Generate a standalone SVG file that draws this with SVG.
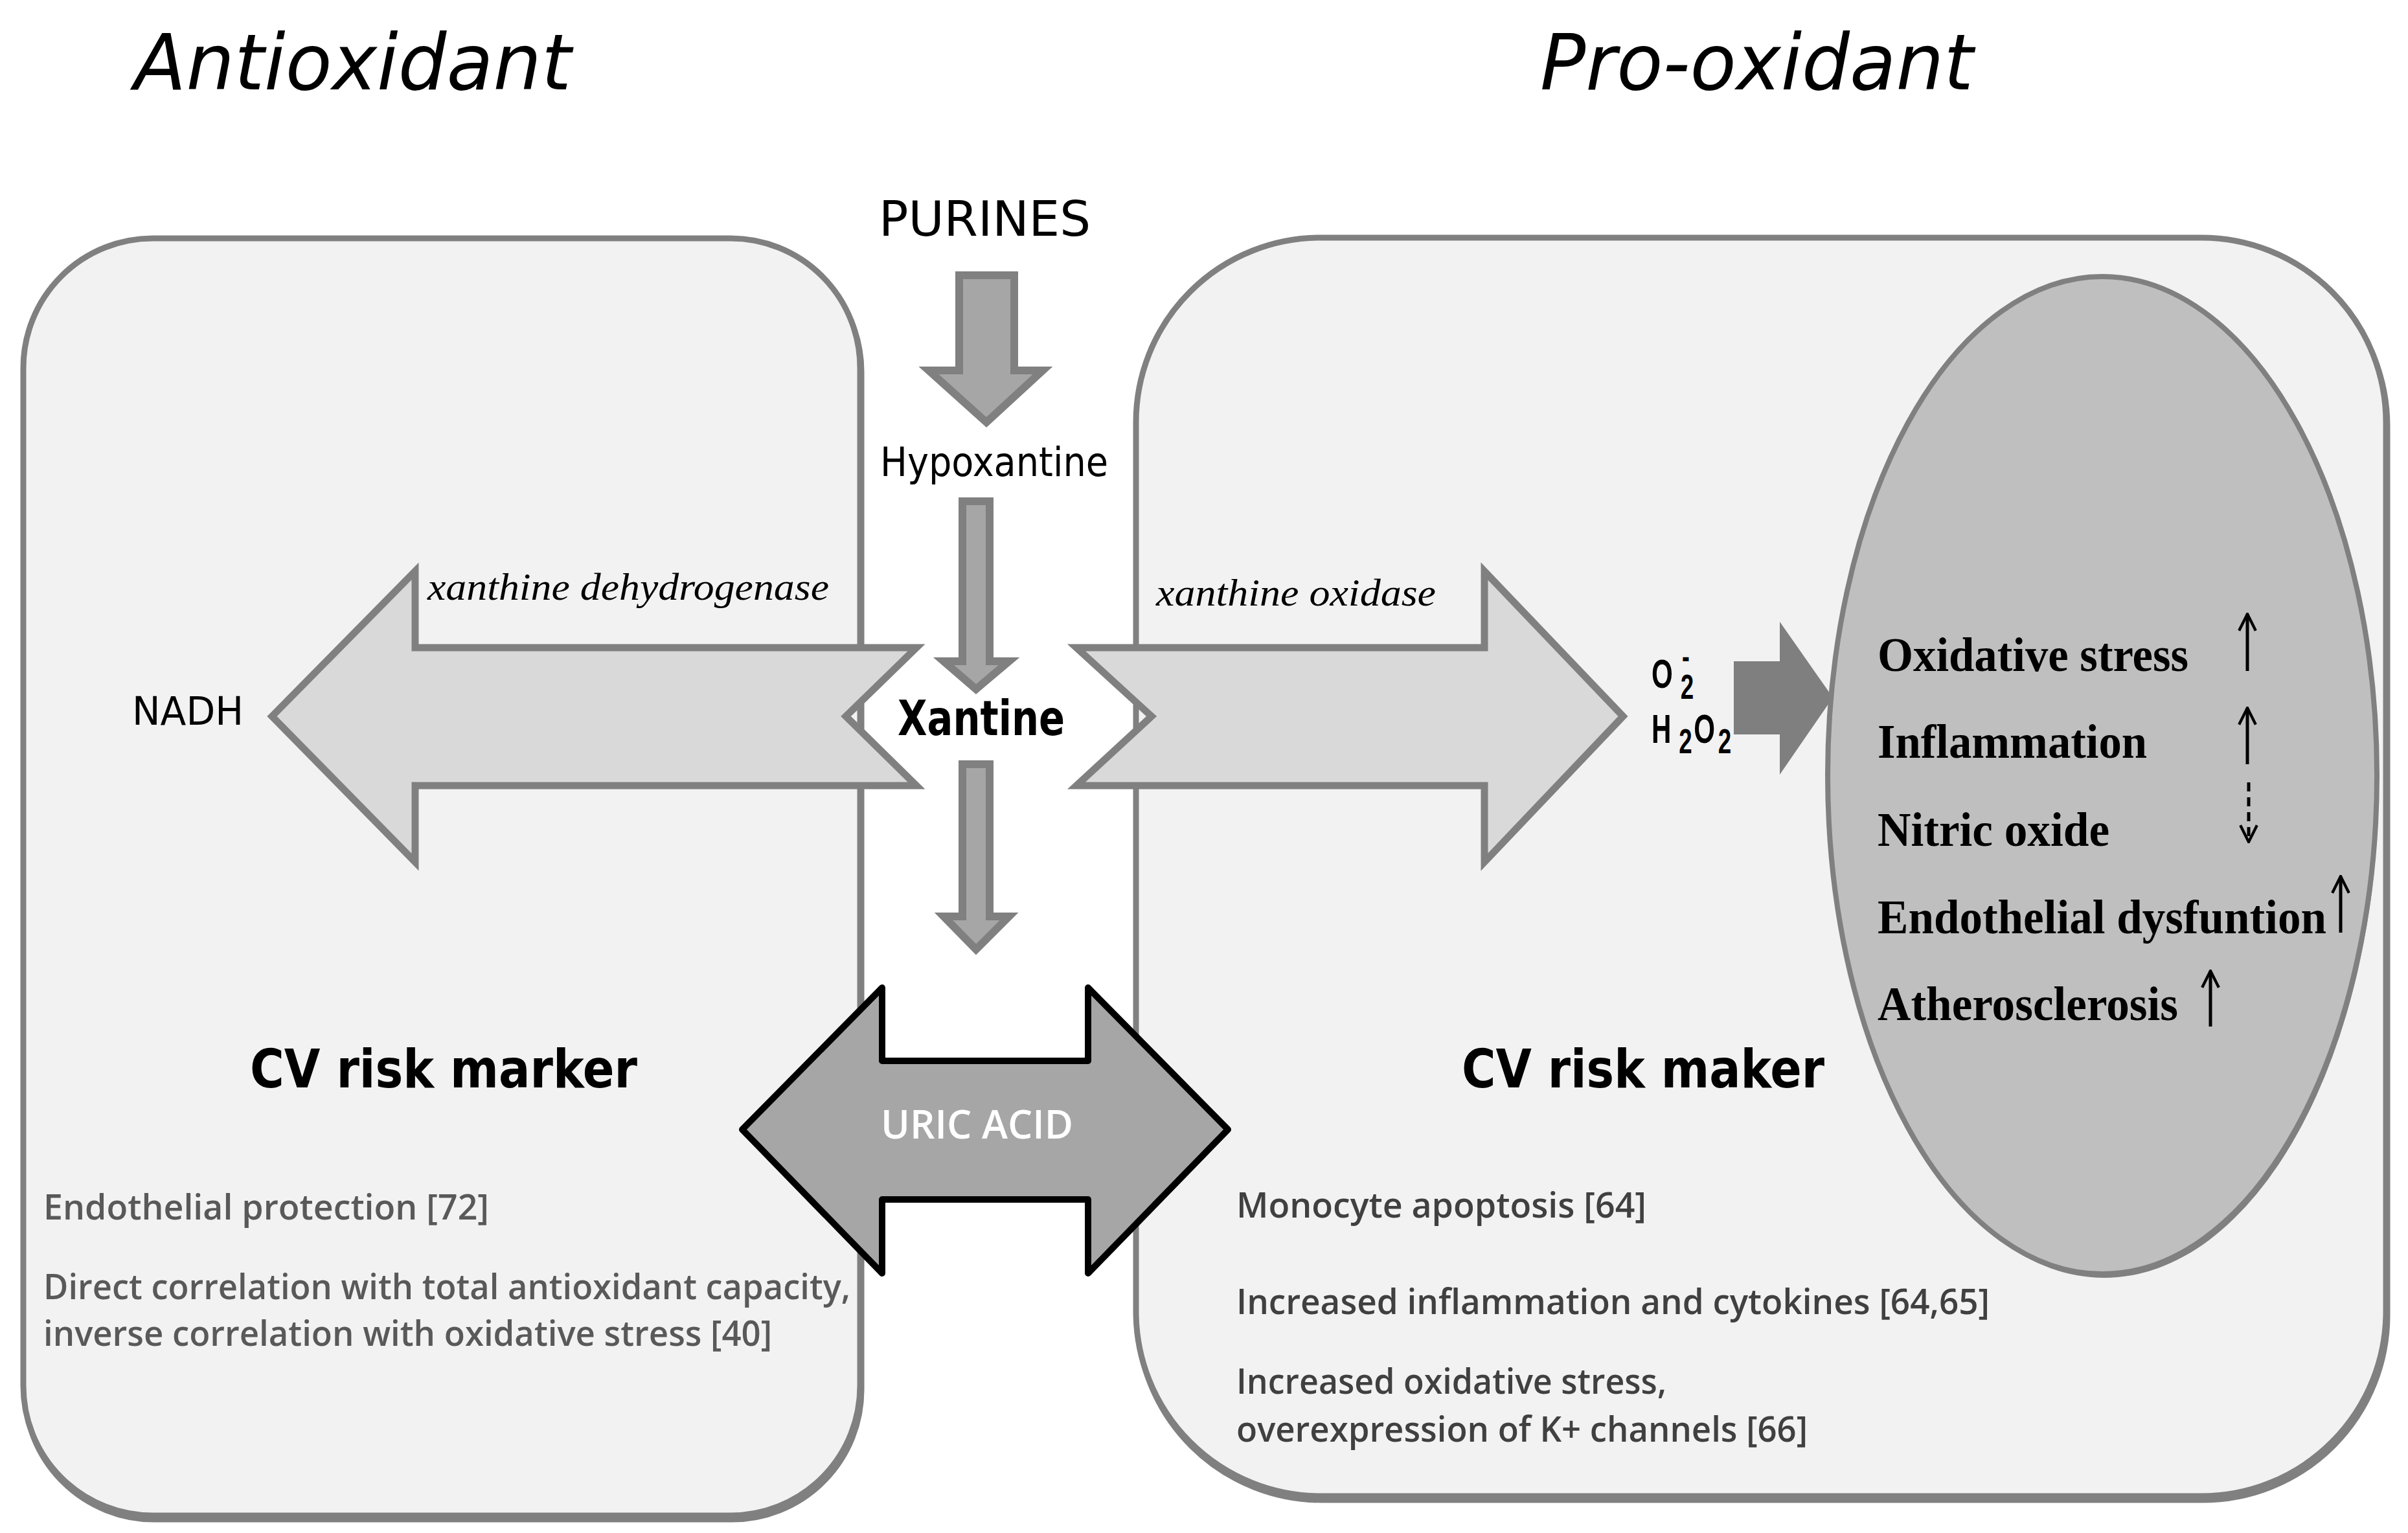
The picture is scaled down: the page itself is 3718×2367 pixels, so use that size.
<svg xmlns="http://www.w3.org/2000/svg" width="3718" height="2367" viewBox="0 0 3718 2367">
<defs>
<style>
.box{fill:#f2f2f2;stroke:#808080;stroke-width:9}
.shadow{fill:#808080;stroke:#808080;stroke-width:9}
.comic{font-family:"DejaVu Sans","Liberation Sans",sans-serif;fill:#000}
.sb{font-family:"Liberation Serif","Times New Roman",serif;font-weight:bold;fill:#000;font-size:74px}
.si{font-family:"Liberation Serif","Times New Roman",serif;font-style:italic;fill:#000;font-size:60px}
.cal{font-family:"Open Sans","Liberation Sans",sans-serif;font-weight:600;font-size:54px}
.chem{font-family:"Liberation Sans",Arial,sans-serif;font-weight:bold;fill:#000;font-size:62px}
.sub{font-size:54px}
.bigarrow{fill:#d9d9d9;stroke:#808080;stroke-width:11;stroke-linejoin:miter}
.downarrow{fill:#a6a6a6;stroke:#808080;stroke-width:12;stroke-linejoin:miter}
.ind{stroke:#000;stroke-width:5;fill:none}
</style>
<marker id="vhead" markerUnits="userSpaceOnUse" markerWidth="30" markerHeight="30" viewBox="0 0 28 28" refX="26" refY="14" orient="auto">
<path d="M2,2 L26,14 L2,26" fill="none" stroke="#000" stroke-width="4"/>
</marker>
</defs>
<rect x="0" y="0" width="3718" height="2367" fill="#ffffff"/>

<g id="title-antioxidant">
<text class="comic" x="207" y="138" font-size="120" font-style="italic" textLength="675" lengthAdjust="spacingAndGlyphs">Antioxidant</text>
</g>
<g id="title-prooxidant">
<text class="comic" x="2378" y="138" font-size="120" font-style="italic" textLength="669" lengthAdjust="spacingAndGlyphs">Pro-oxidant</text>
</g>

<g id="box-antioxidant">
<rect class="shadow" x="38" y="374" width="1292" height="1972" rx="200" ry="200"/>
<rect class="box" x="36" y="368" width="1292" height="1972" rx="200" ry="200"/>
<text class="comic" x="386" y="1679" font-size="82" font-weight="bold" textLength="598" lengthAdjust="spacingAndGlyphs">CV risk marker</text>
<text class="cal" fill="#595959" x="67" y="1883" textLength="688" lengthAdjust="spacingAndGlyphs">Endothelial protection [72]</text>
<text class="cal" fill="#595959" x="67" y="2006" textLength="1246" lengthAdjust="spacingAndGlyphs">Direct correlation with total antioxidant capacity,</text>
<text class="cal" fill="#595959" x="67" y="2078" textLength="1125" lengthAdjust="spacingAndGlyphs">inverse correlation with oxidative stress [40]</text>
</g>

<g id="box-prooxidant">
<rect class="shadow" x="1756" y="373" width="1930" height="1943" rx="285" ry="285"/>
<rect class="box" x="1754" y="367" width="1930" height="1943" rx="285" ry="285"/>
<text class="comic" x="2257" y="1679" font-size="82" font-weight="bold" textLength="560" lengthAdjust="spacingAndGlyphs">CV risk maker</text>
<text class="cal" fill="#404040" x="1909" y="1880" textLength="633" lengthAdjust="spacingAndGlyphs">Monocyte apoptosis [64]</text>
<text class="cal" fill="#404040" x="1909" y="2029" textLength="1163" lengthAdjust="spacingAndGlyphs">Increased inflammation and cytokines [64,65]</text>
<text class="cal" fill="#404040" x="1909" y="2152" textLength="664" lengthAdjust="spacingAndGlyphs">Increased oxidative stress,</text>
<text class="cal" fill="#404040" x="1909" y="2226" textLength="882" lengthAdjust="spacingAndGlyphs">overexpression of K+ channels [66]</text>
</g>

<g id="connectors">
<path class="downarrow" d="M1481,425 L1566,425 L1566,572 L1610,572 L1523,652 L1434,572 L1481,572 Z"/>
<path class="downarrow" d="M1486,774 L1528,774 L1528,1021 L1558,1021 L1507,1064 L1457,1021 L1486,1021 Z"/>
<path class="downarrow" d="M1486,1180 L1528,1180 L1528,1415 L1558,1415 L1507,1466 L1457,1415 L1486,1415 Z"/>
<path class="bigarrow" d="M420,1106 L641,882 L641,1000 L1415,1000 L1306,1106 L1415,1213 L641,1213 L641,1331 Z"/>
<path class="bigarrow" d="M1662,1000 L2292,1000 L2292,882 L2506,1106 L2292,1331 L2292,1213 L1662,1213 L1778,1106 Z"/>
<path d="M2677,1021 L2748,1021 L2748,960 L2830,1077 L2748,1196 L2748,1134 L2677,1134 Z" fill="#7f7f7f"/>
</g>

<g id="effects-ellipse">
<ellipse cx="3249" cy="1203" rx="424" ry="770" fill="#808080"/>
<ellipse cx="3246" cy="1197" rx="424" ry="770" fill="#bfbfbf" stroke="#808080" stroke-width="8"/>
<text class="sb" x="2899" y="1036" textLength="480" lengthAdjust="spacingAndGlyphs">Oxidative stress</text>
<text class="sb" x="2899" y="1170" textLength="416" lengthAdjust="spacingAndGlyphs">Inflammation</text>
<text class="sb" x="2899" y="1306" textLength="358" lengthAdjust="spacingAndGlyphs">Nitric oxide</text>
<text class="sb" x="2899" y="1441" textLength="693" lengthAdjust="spacingAndGlyphs">Endothelial dysfuntion</text>
<text class="sb" x="2899" y="1575" textLength="464" lengthAdjust="spacingAndGlyphs">Atherosclerosis</text>
<line class="ind" x1="3470" y1="1036" x2="3470" y2="948" marker-end="url(#vhead)"/>
<line class="ind" x1="3470" y1="1180" x2="3470" y2="1093" marker-end="url(#vhead)"/>
<line class="ind" x1="3472" y1="1208" x2="3472" y2="1300" stroke-dasharray="14 9" marker-end="url(#vhead)"/>
<line class="ind" x1="3614" y1="1440" x2="3614" y2="1353" marker-end="url(#vhead)"/>
<line class="ind" x1="3413" y1="1585" x2="3413" y2="1499" marker-end="url(#vhead)"/>
</g>

<g id="purines">
<text class="comic" x="1357" y="364" font-size="74" textLength="327" lengthAdjust="spacingAndGlyphs">PURINES</text>
</g>
<g id="hypoxantine">
<text class="comic" x="1359" y="735" font-size="63" textLength="352" lengthAdjust="spacingAndGlyphs">Hypoxantine</text>
</g>
<g id="xantine">
<text class="comic" x="1386" y="1135" font-size="75" font-weight="bold" textLength="258" lengthAdjust="spacingAndGlyphs">Xantine</text>
</g>
<g id="nadh">
<text class="comic" x="204" y="1119" font-size="60" textLength="172" lengthAdjust="spacingAndGlyphs">NADH</text>
</g>
<g id="label-xdh">
<text class="si" x="660" y="926" textLength="620" lengthAdjust="spacingAndGlyphs">xanthine dehydrogenase</text>
</g>
<g id="label-xo">
<text class="si" x="1785" y="935" textLength="432" lengthAdjust="spacingAndGlyphs">xanthine oxidase</text>
</g>

<g id="ros" transform="translate(2550,0) scale(0.68,1)">
<text class="chem"><tspan x="0" y="1062">O</tspan><tspan class="sub" x="66" y="1079">2</tspan><tspan x="69" y="1031" font-size="52">-</tspan><tspan x="0" y="1147">H</tspan><tspan class="sub" x="62" y="1163">2</tspan><tspan x="96" y="1147">O</tspan><tspan class="sub" x="151" y="1163">2</tspan></text>
</g>

<g id="uric-acid">
<path d="M1146,1744 L1362,1525 L1362,1638 L1680,1638 L1680,1525 L1896,1744 L1680,1966 L1680,1852 L1362,1852 L1362,1966 Z" fill="#a6a6a6" stroke="#000" stroke-width="10" stroke-linejoin="round"/>
<text x="1360" y="1758" font-family="'Open Sans','Liberation Sans',sans-serif" font-weight="600" font-size="62" fill="#ffffff" textLength="297" lengthAdjust="spacingAndGlyphs">URIC ACID</text>
</g>
</svg>
